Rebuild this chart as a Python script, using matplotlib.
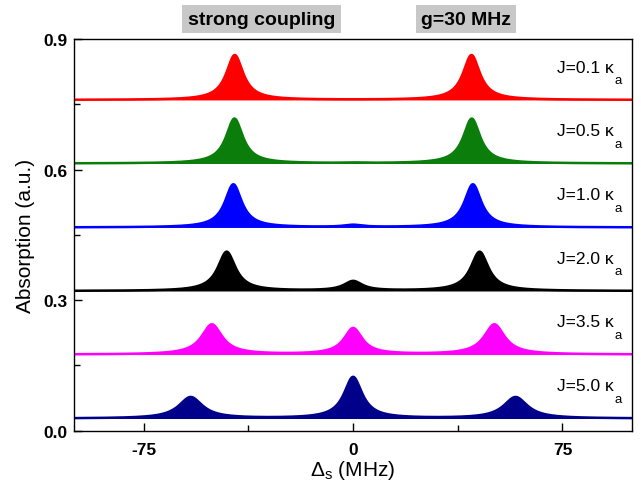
import numpy as np
from matplotlib import pyplot as plt
from matplotlib.ticker import MultipleLocator

plt.rcParams['font.family'] = ['Liberation Sans', 'DejaVu Sans']
plt.rcParams['mathtext.fontset'] = 'custom'
plt.rcParams['mathtext.rm'] = 'Liberation Sans'
plt.rcParams['mathtext.it'] = 'Liberation Sans:italic'
plt.rcParams['axes.unicode_minus'] = False

# traces, top to bottom
labels = ['0.1', '0.5', '1.0', '2.0', '3.5', '5.0']
colors = ['#ff0000', '#0a7d0a', '#0000ff', '#000000', '#ff00ff', '#00008b']
baselines = [0.760, 0.614, 0.467, 0.321, 0.175, 0.028]
# peak centres (MHz): left / right (centre peak sits at 0)
left_pos = [-42.4, -42.5, -42.9, -45.3, -50.6, -58.2]
right_pos = [42.4, 42.5, 42.9, 45.3, 50.6, 58.2]
# peak heights above baseline
side_h = [0.103, 0.103, 0.099, 0.090, 0.069, 0.049]
mid_h = [0.0, 0.001, 0.005, 0.022, 0.060, 0.095]
# half widths (MHz)
side_w = [3.7, 3.7, 3.7, 3.9, 4.5, 5.2]
mid_w = [4.0, 4.0, 4.0, 4.0, 4.0, 4.0]


def lorentz(x, x0, h, w):
    return h * w**2 / ((x - x0)**2 + w**2)


x = np.linspace(-100, 100, 2001)

fig = plt.figure(figsize=(6.41, 4.85), dpi=100)
ax = fig.add_axes([0.1154, 0.1099, 0.871, 0.8076])

for i in range(len(labels)):
    y = (baselines[i]
         + lorentz(x, left_pos[i], side_h[i], side_w[i])
         + lorentz(x, right_pos[i], side_h[i], side_w[i])
         + lorentz(x, 0.0, mid_h[i], mid_w[i]))
    ax.fill_between(x, baselines[i], y, color=colors[i], lw=0)
    ax.plot(x, y, color=colors[i], lw=1.8)
    t = ax.text(73, baselines[i] + 0.075, 'J=%s \u03ba' % labels[i],
                fontsize=12.5, va='center', ha='left')
    ax.annotate('a', xy=(1, 0), xycoords=t, xytext=(0.5, -6),
                textcoords='offset points', fontsize=9.5,
                ha='left', va='baseline')

ax.set_xlim(-100, 100)
ax.set_ylim(0, 0.9)
ax.set_xticks([-75, 0, 75])
ax.set_yticks([0.0, 0.3, 0.6, 0.9])
ax.set_yticklabels(['0.0', '0.3', '0.6', '0.9'])
ax.xaxis.set_minor_locator(MultipleLocator(37.5))
ax.yaxis.set_minor_locator(MultipleLocator(0.15))
ax.tick_params(which='both', direction='in', labelsize=12.5)
ax.tick_params(which='major', length=6, width=1)
ax.tick_params(which='minor', length=4, width=1)
for lab in ax.get_xticklabels() + ax.get_yticklabels():
    lab.set_fontweight('bold')
ax.tick_params(axis='x', pad=8)
ax.tick_params(axis='y', pad=5)
for s in ax.spines.values():
    s.set_linewidth(1.0)

ax.set_xlabel(r'$\Delta_\mathregular{s}$ (MHz)', fontsize=15, labelpad=1)
ax.set_ylabel('Absorption (a.u.)', fontsize=15, labelpad=6)

box = dict(boxstyle='square,pad=0.28', facecolor='#c8c8c8', edgecolor='none')
fig.text(0.408, 0.958, 'strong coupling', fontsize=14, fontweight='bold',
         ha='center', va='center', bbox=box)
fig.text(0.727, 0.958, 'g=30 MHz', fontsize=14, fontweight='bold',
         ha='center', va='center', bbox=box)

plt.savefig('out.png', dpi=100)
plt.close()
